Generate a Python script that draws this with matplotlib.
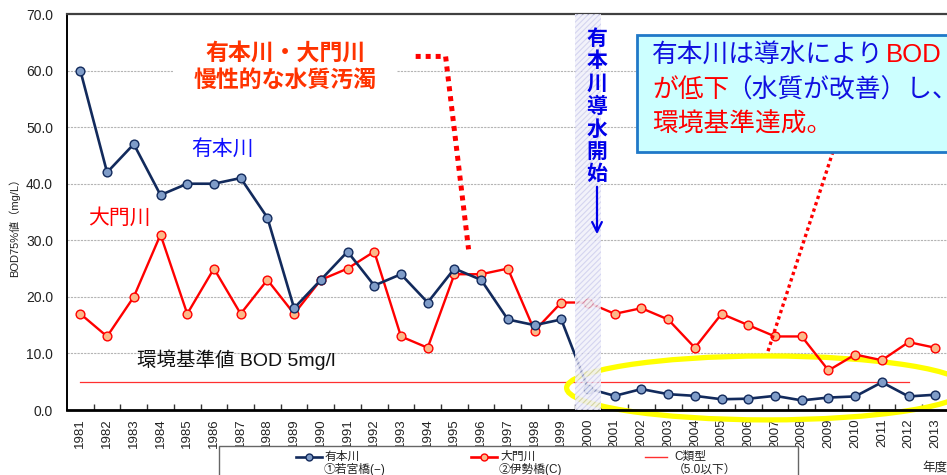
import matplotlib
matplotlib.use("Agg")
from matplotlib import pyplot as plt
from matplotlib.patches import Rectangle, Ellipse, FancyArrowPatch
from matplotlib.lines import Line2D

plt.rcParams['font.family'] = ['Liberation Sans', 'Noto Sans CJK JP', 'DejaVu Sans']
plt.rcParams['hatch.linewidth'] = 2.0

# data (BOD 75% values, mg/L)
years = list(range(1981, 2014))
arimoto = [60, 42, 47, 38, 40, 40, 41, 34, 18, 23, 28, 22, 24, 19, 25, 23, 16, 15, 16,
           3.8, 2.5, 3.7, 2.8, 2.5, 1.9, 2.0, 2.5, 1.7, 2.2, 2.4, 4.9, 2.4, 2.7]
daimon = [17, 13, 20, 31, 17, 25, 17, 23, 17, 23, 25, 28, 13, 11, 24, 24, 25, 14, 19,
          19, 17, 18, 16, 11, 17, 15, 13, 13, 7.0, 9.8, 8.8, 12, 11]
std_years = list(range(1981, 2013))
std_value = [5.0] * len(std_years)
start_year = 2000

W, H = 947, 475


def fx(px):
    return px / W


def fy(py):
    return 1 - py / H


fig = plt.figure(figsize=(W / 100, H / 100), dpi=100)
ax = fig.add_axes([fx(67), fy(410), 881.7 / W, 396 / H])

ax.plot(years, arimoto, color='#122a5c', lw=1.9, marker='o', ms=6.3,
        mfc='#7f9cc8', mec='#122a5c', mew=1, zorder=4)
ax.plot(years, daimon, color='#ff0000', lw=1.7, marker='o', ms=6.3,
        mfc='#fbb98a', mec='#ff0000', mew=1, zorder=3)
ax.plot(std_years, std_value, color='#ff3030', lw=0.9, zorder=2)

# start of water transfer band
ax.axvspan(start_year - 0.5, start_year + 0.5, facecolor='#c4c4ea', alpha=0.7,
           edgecolor='white', hatch='//////', lw=0, zorder=5)

ax.set_xlim(1980.5, 2013.5)
ax.set_ylim(0, 70)
ax.set_yticks(range(0, 71, 10))
ax.set_yticklabels([f"{v:.1f}" for v in range(0, 71, 10)], fontsize=10, color='#222222')
ax.set_xticks(years)
ax.set_xticklabels([str(y) for y in years], rotation=90, fontsize=9.5, color='#222222')
ax.set_xticks([y + 0.5 for y in years[:-1]], minor=True)
ax.tick_params(axis='x', which='major', length=0, pad=6)
ax.tick_params(axis='x', which='minor', direction='in', length=4, width=1, color='#333333')
ax.tick_params(axis='y', length=0, pad=10)
for v in range(10, 70, 10):
    ax.axhline(v, color='#b4b4b4', lw=0.8, ls=(0, (2, 1)), zorder=1)

ax.spines['right'].set_visible(False)
ax.spines['top'].set_color('#404040')
ax.spines['top'].set_linewidth(1.6)
ax.spines['left'].set_linewidth(1.4)
ax.spines['bottom'].set_linewidth(2.0)

# yellow ellipse around post-2000 values
ax.add_patch(Ellipse((2006.7, 3.9), 15.0, 11.3, fill=False, edgecolor='#ffff00',
                     lw=3.8, clip_on=False, zorder=2.5))

# dotted pointer lines
ax.plot([1993.55, 1994.67, 1995.53], [62.5, 62.5, 28.4], color='#ff0000', lw=3.6,
        ls=(0, (1, 1)), clip_on=False, zorder=6)
ax.plot([2009.17, 2006.73], [45.7, 10.3], color='#ff0000', lw=2.4,
        ls=(0, (1, 1)), clip_on=False, zorder=6)

# text annotations
fig.text(fx(285), fy(67), '有本川・大門川\n慢性的な水質汚濁', ha='center', va='center',
         fontsize=16.5, fontweight='bold', color='#ff3300', linespacing=1.25,
         bbox=dict(boxstyle='square,pad=0.9', facecolor='white', edgecolor='none'))
fig.text(fx(223), fy(149), '有本川', ha='center', va='center', fontsize=15, color='#1010ff')
fig.text(fx(119), fy(218), '大門川', ha='center', va='center', fontsize=15, color='#ff0000')
fig.text(fx(137), fy(360), '環境基準値 BOD 5mg/l', ha='left', va='center', fontsize=14,
         color='#111111')

fig.text(fx(597), fy(29), '有\n本\n川\n導\n水\n開\n始', ha='center', va='top',
         fontsize=15, fontweight='bold', color='#0000e8', linespacing=1.2, zorder=7)
fig.add_artist(FancyArrowPatch(
    (fx(597), fy(184)), (fx(597), fy(237)), transform=fig.transFigure,
    arrowstyle='->,head_length=7,head_width=3.5', color='#0000e8', lw=1.6, zorder=7))

# info box
fig.add_artist(Rectangle((fx(637), fy(152)), 0.4, (152 - 35) / H, transform=fig.transFigure,
                         facecolor='#ccffff', edgecolor='#1f78c8', lw=2, zorder=8))
box_kw = dict(ha='left', va='center', fontsize=18.5, zorder=9)
fig.text(fx(652), fy(55), '有本川は導水により', color='#1010e0', **box_kw)
fig.text(fx(886), fy(55), 'BOD', color='#ff0000', **box_kw)
fig.text(fx(652), fy(90), 'が低下', color='#ff0000', **box_kw)
fig.text(fx(726), fy(90), '（水質が改善）し、', color='#1010e0', **box_kw)
fig.text(fx(652), fy(125), '環境基準達成。', color='#ff0000', **box_kw)

# y label and unit
fig.text(fx(14), fy(225), 'BOD75%値（mg/L）', rotation=90, ha='center', va='center',
         fontsize=8, color='#222222')
fig.text(fx(935), fy(468), '年度', ha='center', va='center', fontsize=9, color='#222222')

# legend drawn by hand
fig.add_artist(Rectangle((fx(219), fy(500)), (798 - 219) / W, (500 - 446) / H,
                         transform=fig.transFigure, facecolor='white', edgecolor='#666666',
                         lw=1))
legend_items = [
    ('有本川', '①若宮橋(−)', '#122a5c', '#7f9cc8', 296),
    ('大門川', '②伊勢橋(C)', '#ff0000', '#fbb98a', 471),
    ('C類型', '（5.0以下）', '#ff3030', None, 645),
]
for name, sub, col, mfc, x0 in legend_items:
    if mfc:
        fig.add_artist(Line2D([fx(x0), fx(x0 + 26)], [fy(457), fy(457)], color=col, lw=1.9,
                              transform=fig.transFigure))
        fig.add_artist(Line2D([fx(x0 + 13)], [fy(457)], marker='o', ms=5, mfc=mfc, mec=col,
                              transform=fig.transFigure))
    else:
        fig.add_artist(Line2D([fx(x0), fx(x0 + 22)], [fy(457), fy(457)], color=col, lw=1,
                              transform=fig.transFigure))
    fig.text(fx(x0 + 29), fy(457), name, ha='left', va='center', fontsize=8.5, color='#222222')
    fig.text(fx(x0 + 28), fy(470), sub, ha='left', va='center', fontsize=8.5, color='#222222')

fig.savefig('out.png', dpi=100)
